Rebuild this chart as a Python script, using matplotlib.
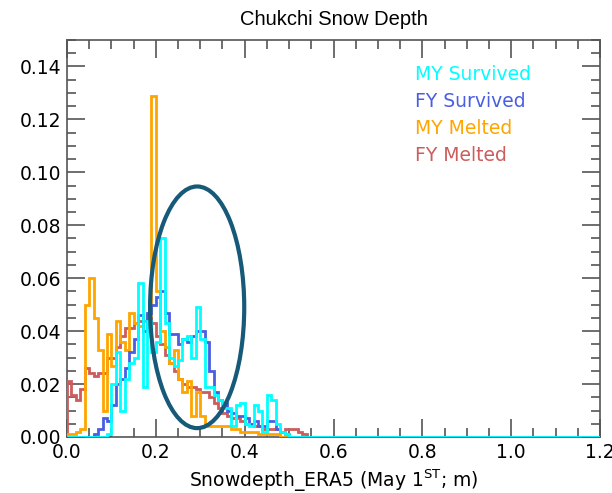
import numpy as np
import matplotlib
matplotlib.use("Agg")
import matplotlib.pyplot as plt
from matplotlib.patches import Ellipse
from matplotlib.ticker import MultipleLocator, FormatStrFormatter

# histogram bins: 0.01 m wide, values for the first 60 bins (0.00 - 0.60), zero beyond
bin_width = 0.01
n_bins = 120

my_survived = [0.000, 0.000, 0.000, 0.000, 0.000, 0.000, 0.000, 0.000, 0.000, 0.001,
               0.020, 0.032, 0.010, 0.022, 0.028, 0.030, 0.058, 0.019, 0.044, 0.032,
               0.036, 0.075, 0.043, 0.030, 0.027, 0.029, 0.037, 0.038, 0.030, 0.049,
               0.037, 0.019, 0.019, 0.016, 0.014, 0.011, 0.011, 0.004, 0.012, 0.013,
               0.005, 0.004, 0.012, 0.010, 0.002, 0.016, 0.014, 0.005, 0.002, 0.001,
               0.000, 0.000, 0.000, 0.000, 0.000, 0.000, 0.000, 0.000, 0.000, 0.000]

fy_survived = [0.000, 0.000, 0.000, 0.000, 0.000, 0.000, 0.001, 0.003, 0.007, 0.006,
               0.012, 0.020, 0.022, 0.026, 0.032, 0.037, 0.046, 0.040, 0.047, 0.050,
               0.053, 0.055, 0.047, 0.039, 0.039, 0.035, 0.037, 0.036, 0.038, 0.040,
               0.040, 0.036, 0.025, 0.017, 0.014, 0.013, 0.010, 0.009, 0.008, 0.008,
               0.007, 0.005, 0.006, 0.004, 0.004, 0.006, 0.006, 0.003, 0.002, 0.001,
               0.000, 0.000, 0.000, 0.000, 0.000, 0.000, 0.000, 0.000, 0.000, 0.000]

my_melted = [0.001, 0.001, 0.002, 0.003, 0.050, 0.060, 0.045, 0.033, 0.010, 0.039,
             0.027, 0.044, 0.036, 0.033, 0.047, 0.043, 0.042, 0.044, 0.046, 0.129,
             0.055, 0.040, 0.034, 0.028, 0.033, 0.022, 0.017, 0.021, 0.008, 0.017,
             0.008, 0.004, 0.004, 0.004, 0.004, 0.004, 0.004, 0.003, 0.003, 0.002,
             0.002, 0.002, 0.002, 0.001, 0.001, 0.001, 0.001, 0.001, 0.000, 0.000,
             0.000, 0.000, 0.000, 0.000, 0.000, 0.000, 0.000, 0.000, 0.000, 0.000]

fy_melted = [0.021, 0.016, 0.014, 0.018, 0.026, 0.024, 0.023, 0.024, 0.024, 0.030,
             0.030, 0.034, 0.038, 0.041, 0.041, 0.043, 0.044, 0.044, 0.045, 0.043,
             0.038, 0.035, 0.031, 0.028, 0.025, 0.022, 0.020, 0.019, 0.019, 0.018,
             0.017, 0.017, 0.015, 0.013, 0.011, 0.009, 0.008, 0.007, 0.007, 0.006,
             0.005, 0.005, 0.004, 0.004, 0.003, 0.003, 0.003, 0.003, 0.002, 0.003,
             0.003, 0.003, 0.002, 0.001, 0.000, 0.000, 0.000, 0.000, 0.000, 0.000]

labels = ["MY Survived", "FY Survived", "MY Melted", "FY Melted"]
colors = ["#00FFFF", "#4A5FE0", "#FFA500", "#CD5C5C"]
series = [my_survived, fy_survived, my_melted, fy_melted]

edges = np.arange(n_bins + 1) * bin_width

fig = plt.figure(figsize=(6.12, 4.93), dpi=100)
ax = fig.add_axes([0.1095, 0.1136, 0.8709, 0.8053])

# draw in reverse so cyan sits on top
for vals, col in list(zip(series, colors))[::-1]:
    full = np.zeros(n_bins)
    full[:len(vals)] = vals
    ax.stairs(full, edges, color=col, linewidth=2.0, zorder=3)

ax.add_patch(Ellipse((0.293, 0.049), 0.212, 0.0913, fill=False,
                     edgecolor="#165978", linewidth=3.0, zorder=5))

ax.set_xlim(0, 1.2)
ax.set_ylim(0, 0.15)
ax.xaxis.set_major_locator(MultipleLocator(0.2))
ax.xaxis.set_minor_locator(MultipleLocator(0.05))
ax.yaxis.set_major_locator(MultipleLocator(0.02))
ax.yaxis.set_minor_locator(MultipleLocator(0.005))
ax.xaxis.set_major_formatter(FormatStrFormatter("%.1f"))
ax.yaxis.set_major_formatter(FormatStrFormatter("%.2f"))
ax.set_yticks([0.0, 0.02, 0.04, 0.06, 0.08, 0.10, 0.12, 0.14])

ax.tick_params(which="both", direction="in", top=True, right=True,
               color="#555555", labelsize=13.5, width=1.2)
ax.tick_params(which="major", length=13, pad=4)
ax.tick_params(which="minor", length=6.5)
for s in ax.spines.values():
    s.set_color("#555555")
    s.set_linewidth(1.2)

ax.set_xlabel("Snowdepth_ERA5 (May 1$^{\\mathrm{ST}}$; m)", fontsize=13.5, labelpad=4)

ax.set_title("Chukchi Snow Depth", fontsize=14.5, family="Liberation Sans", pad=11)

ys = [0.912, 0.846, 0.778, 0.710]
for lab, col, y in zip(labels, colors, ys):
    ax.text(0.653, y, lab, color=col, fontsize=13.5, transform=ax.transAxes,
            ha="left", va="center")

fig.savefig("out.png", dpi=100)
